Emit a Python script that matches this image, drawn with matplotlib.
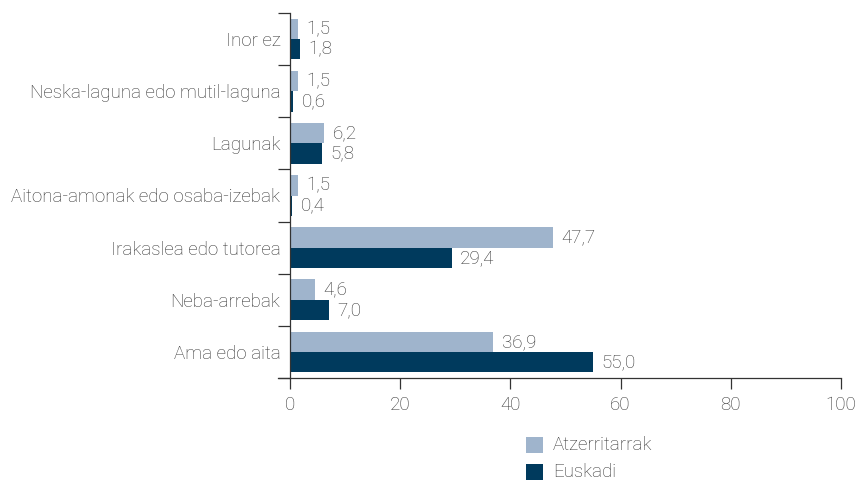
import matplotlib
matplotlib.use("Agg")
import matplotlib.pyplot as plt
from matplotlib.patches import Rectangle
from matplotlib.lines import Line2D
import numpy as np

categories = ["Inor ez", "Neska-laguna edo mutil-laguna", "Lagunak",
              "Aitona-amonak edo osaba-izebak", "Irakaslea edo tutorea",
              "Neba-arrebak", "Ama edo aita"]
atzerritarrak = [1.5, 1.5, 6.2, 1.5, 47.7, 4.6, 36.9]
euskadi = [1.8, 0.6, 5.8, 0.4, 29.4, 7.0, 55.0]
series_names = ["Atzerritarrak", "Euskadi"]
x_ticks = [0, 20, 40, 60, 80, 100]

light = "#9fb4cc"
dark = "#003a5d"
text_col = "#333333"
fs = 13.5

plt.rcParams["font.family"] = ["Roboto", "DejaVu Sans"]
plt.rcParams["font.weight"] = "light"

W, H = 859, 482
fig = plt.figure(figsize=(W / 100, H / 100), dpi=100)
ax = fig.add_axes([290 / W, 1 - 378 / H, (841 - 290) / W, (378 - 13) / H])

n = len(categories)
pos = np.arange(n)[::-1].astype(float)  # first category on top
h = 0.39
ax.barh(pos + h / 2, atzerritarrak, height=h, color=light)
ax.barh(pos - h / 2, euskadi, height=h, color=dark)

def fmt(v):
    return f"{v:.1f}".replace(".", ",")

for p, a, e in zip(pos, atzerritarrak, euskadi):
    ax.annotate(fmt(a), (a, p + h / 2), xytext=(6, 0), textcoords="offset points",
                va="center", ha="left", fontsize=fs, color=text_col)
    ax.annotate(fmt(e), (e, p - h / 2), xytext=(6, 0), textcoords="offset points",
                va="center", ha="left", fontsize=fs, color=text_col)

ax.set_xlim(0, 100)
ax.set_ylim(-0.5, n - 0.5)
ax.set_xticks(x_ticks)
ax.set_xticklabels([str(t) for t in x_ticks], fontsize=fs, color=text_col)
ax.set_yticks(pos)
ax.set_yticklabels(categories, fontsize=fs, color=text_col)
ax.tick_params(axis="y", which="major", length=0, pad=7)
ax.set_yticks(np.arange(n + 1) - 0.5, minor=True)
ax.tick_params(axis="y", which="minor", length=9, width=0.9, color="#333333", direction="out")
ax.tick_params(axis="x", length=8, width=0.9, color="#333333", pad=5)

for s in ["top", "right", "bottom"]:
    ax.spines[s].set_visible(False)
ax.spines["left"].set_color("#333333")
ax.spines["left"].set_linewidth(0.9)

# baseline extends slightly past the left spine
ax.add_line(Line2D([-12 / 551, 1], [0, 0], transform=ax.transAxes, color="#333333",
                   lw=0.9, clip_on=False))

# legend: swatches stacked below the axis
sw, sh = 17, 16
for i, (name, col) in enumerate(zip(series_names, [light, dark])):
    top = 437 + i * 27
    fig.add_artist(Rectangle((526 / W, 1 - (top + sh) / H), sw / W, sh / H,
                             transform=fig.transFigure, facecolor=col, edgecolor="none"))
    fig.text(553 / W, 1 - (top + sh / 2) / H, name, fontsize=fs, color=text_col,
             va="center", ha="left")

fig.savefig("out.png", dpi=100)
